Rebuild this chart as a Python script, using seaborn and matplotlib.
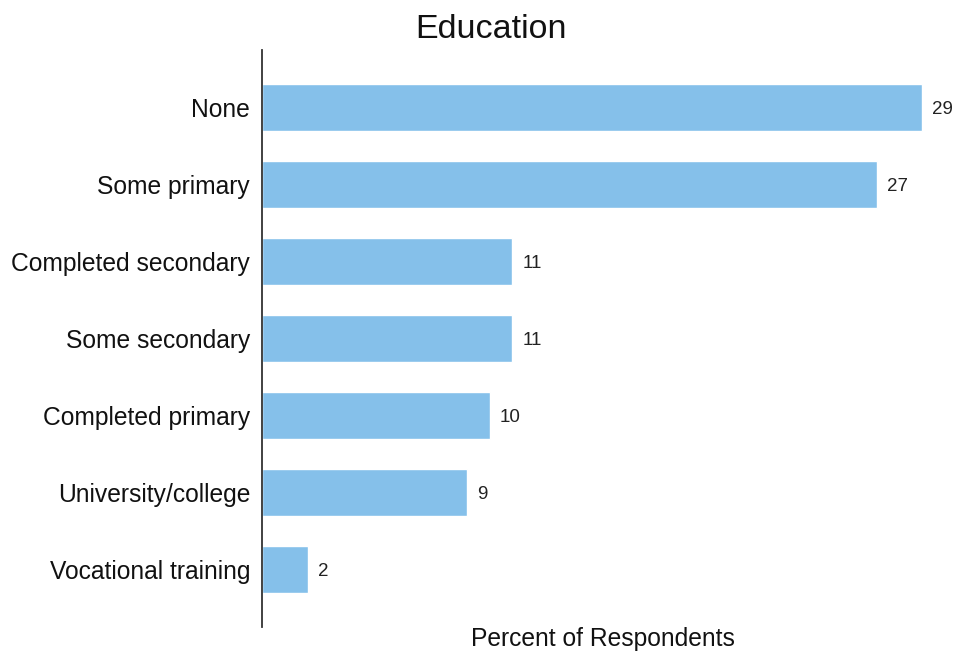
import matplotlib
matplotlib.use("Agg")
import matplotlib.pyplot as plt
import seaborn as sns
import pandas as pd

categories = ["None", "Some primary", "Completed secondary", "Some secondary",
              "Completed primary", "University/college", "Vocational training"]
percent = [29, 27, 11, 11, 10, 9, 2]

sns.set_theme(style="white")
plt.rcParams["font.family"] = ["Liberation Sans", "DejaVu Sans"]

df = pd.DataFrame({"category": categories, "percent": percent})

W, H = 955, 653
fig = plt.figure(figsize=(W / 100, H / 100), dpi=100)
ax = fig.add_axes([262 / W, 1 - 627 / H, (945 - 262) / W, (627 - 50) / H])

sns.barplot(data=df, x="percent", y="category", orient="h", color="#85C0EA",
            saturation=1, width=0.61, ax=ax)

ax.set_xlim(0, 30)
ax.set_ylim(6.74, -0.74)

for i, v in enumerate(percent):
    ax.annotate(f"{v}", xy=(v, i), xytext=(7.2, 0), textcoords="offset points",
                ha="left", va="center_baseline", fontsize=13.5, color="#222222",
                annotation_clip=False)

sns.despine(ax=ax, top=True, right=True, bottom=True, left=False)
ax.spines["left"].set_color("#333333")
ax.spines["left"].set_linewidth(1.3)
ax.set_xticks([])
ax.tick_params(axis="y", length=0, pad=8.6, labelsize=17.7, labelcolor="#111111")
ax.set_ylabel("")
ax.set_xlabel("")

fig.text(491 / W, 1 - 29 / H, "Education", ha="center", va="center",
         fontsize=24.5, color="#111111")
fig.text(603 / W, 1 - 639 / H, "Percent of Respondents", ha="center",
         va="center", fontsize=17.7, color="#111111")

fig.savefig("out.png", dpi=100)
